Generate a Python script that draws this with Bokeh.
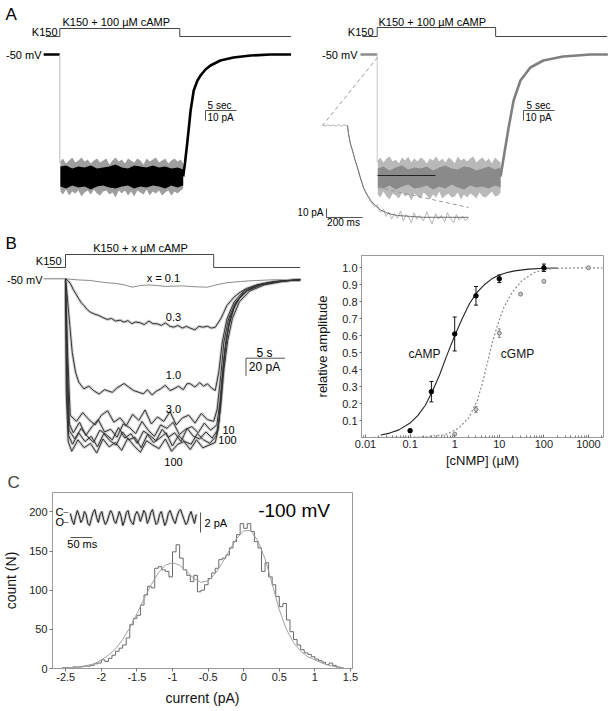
import numpy as np
from bokeh.plotting import figure
from bokeh.models import (Label, Range1d, FixedTicker, Whisker, TeeHead,
                          ColumnDataSource, CustomJSTickFormatter)
from bokeh.layouts import row, column
from bokeh.embed import file_html
from bokeh.resources import INLINE

FONT = "Liberation Sans"

# ======================= DATA =======================
# ---- Panel A : time (s), current (pA) ----
AL_sol_t = [-2.3, 0.0, 19.35, 37.3]      # start, cAMP on, cAMP off, end
AR_sol_t = [-2.4, 0.0, 19.1, 37.1]
AL_hold_t = [-2.6, 0.0]
AR_hold_t = [-2.7, 0.0]
A_env_t = [0.1, 1, 2, 3, 4, 5, 6, 7, 8, 9, 10, 11, 12, 13, 14, 15, 16, 17, 18, 19, 19.9]
A_out_t = [0.1, 0.5, 1.0, 1.5, 2.0, 2.5, 3.0, 3.5, 4.0, 4.5, 5.0, 5.5, 6.0, 6.5, 7.0, 7.5, 8.0, 8.5, 9.0, 9.5,
           10.0, 10.5, 11.0, 11.5, 12.0, 12.5, 13.0, 13.5, 14.0, 14.5, 15.0, 15.5, 16.0, 16.5, 17.0, 17.5,
           18.0, 18.5, 19.0, 19.5, 19.9]
AL_core_hi = [-112, -111, -114, -112, -113, -111, -114, -113, -112, -110, -113, -114, -111, -112, -113, -111, -113, -112, -114, -113, -115]
AL_core_lo = [-132, -134, -131, -133, -132, -135, -132, -131, -133, -134, -132, -131, -134, -132, -133, -131, -132, -134, -131, -133, -131]
AL_out_hi = [-107, -104, -109, -106, -103, -108, -106, -103, -107, -105, -109, -106, -104, -108, -106, -104, -110, -106, -103, -107,
             -105, -109, -104, -106, -108, -104, -106, -110, -104, -107, -105, -103, -108, -106, -104, -109, -106, -104, -107, -105, -109]
AL_out_lo = [-137, -140, -135, -141, -137, -139, -136, -142, -138, -136, -140, -135, -139, -141, -137, -136, -140, -138, -143, -136,
             -139, -136, -141, -137, -142, -136, -138, -140, -135, -141, -137, -139, -136, -141, -138, -136, -141, -137, -139, -136, -134]
AL_rise_t = [19.9, 20.2, 20.6, 21.1, 21.6, 22.2, 22.7, 23.5, 24.3, 25.9, 28.0, 30.8, 34.0, 37.3]
AL_rise_I = [-122, -108, -86, -56, -36, -26, -21, -15, -11, -6, -3, -1, 0, 0]

AR_core_hi = [-114, -112, -116, -113, -111, -115, -113, -114, -112, -116, -113, -111, -114, -115, -112, -113, -116, -114, -112, -115, -113]
AR_core_lo = [-132, -134, -131, -135, -132, -130, -134, -133, -131, -135, -132, -134, -130, -133, -135, -131, -133, -132, -134, -131, -133]
AR_out_hi = [-106, -103, -108, -104, -102, -107, -105, -109, -103, -106, -102, -108, -104, -107, -103, -105, -109, -104, -106, -102,
             -107, -104, -108, -103, -105, -109, -102, -106, -104, -107, -104, -102, -108, -105, -103, -107, -104, -109, -103, -106, -108]
AR_out_lo = [-140, -143, -137, -142, -145, -139, -141, -144, -138, -142, -140, -146, -139, -142, -144, -138, -141, -145, -140, -143,
             -137, -144, -141, -139, -143, -142, -138, -145, -140, -143, -139, -141, -144, -138, -142, -143, -140, -137, -142, -141, -138]
AR_rise_t = [19.9, 20.4, 21.2, 22.0, 23.1, 24.7, 26.8, 30.0, 34.4, 37.2]
AR_rise_I = [-122, -103, -73, -46, -26, -13, -6, -2, 0, 0]
AR_fit_t = [0.05, 9.4]
AR_fit_I = [-121, -121]

# inset of A (ms, pA)
AI_t = [-139, -125, -110, -95, -80, -65, -50, -35, -20, -8, 0, 5.6, 15, 27.8, 40, 55.6, 70, 88.9, 105, 127.8,
        150, 165, 183, 200, 215, 230, 245, 260, 278, 295, 310, 325, 340, 355, 370, 385, 400, 422, 440, 455,
        470, 490, 505, 520, 540, 555, 570, 590, 605, 620, 640, 655, 672]
AI_I = [0.3, -0.6, 0.8, -0.3, 0.5, -0.7, 1.0, -0.9, 0.6, 0.2, 0, -9, -20, -28, -37, -47, -57, -69, -75, -84,
        -90, -88, -96, -93, -101, -96, -104, -98, -103, -95, -106, -99, -102, -108, -97, -104, -100, -106, -96, -103,
        -109, -98, -104, -100, -107, -97, -103, -108, -99, -105, -101, -106, -102]
AI_fit_t = [0, 5.6, 15, 28, 40, 56, 70, 89, 105, 128, 155, 183, 230, 278, 350, 422, 672]
AI_fit_I = [0, -9, -19, -28, -37, -47, -57, -69, -76, -83, -89, -94, -98, -100, -101, -102, -102]

# ---- Panel B traces : time (s), current (pA) ----
B_sol_t = [-2.3, 0.0, 19.0, 30.1]
B_hold_t = [-2.8, 0.0]
B01_t = [0, 1.5, 3.2, 4.3, 5.35, 6.4, 7.5, 8.55, 9.6, 10.7, 11.75, 12.8, 13.9, 15.0, 16.0, 17.1, 18.2, 19.0,
         19.8, 20.7, 21.5, 22.4, 23.5, 24.6, 25.6, 26.7, 28.4, 30.1]
B01_I = [0, -1.2, -1.9, -3.4, -4.5, -5.2, -6.8, -9.5, -7.6, -7.0, -7.6, -8.6, -8.4, -8.0, -8.8, -9.2, -9.5, -7.6,
         -6.0, -4.5, -3.8, -3.1, -2.4, -1.9, -1.5, -1.1, -0.9, -0.8]
B03_t = [0, 0.3, 0.64, 1.06, 1.4, 1.7, 2.0, 2.35, 2.8, 3.2, 3.7, 4.27, 4.8, 5.35, 5.9, 6.4, 7.0, 7.5, 8.0, 8.5,
         9.0, 9.6, 10.1, 10.7, 11.2, 11.75, 12.3, 12.8, 13.4, 13.9, 14.4, 15.0, 15.5, 16.0, 16.6, 17.1, 17.6, 18.2,
         18.7, 19.2, 19.9, 20.3, 20.7, 21.2, 21.6, 22.4, 23.2, 24.1, 25.3, 26.7, 28.4, 30.1]
B03_I = [0, -2, -5.7, -13.3, -18, -22.7, -27, -30.3, -35, -38, -40, -41.7, -44, -46.2, -45, -48, -47, -49.3, -47.5, -51,
         -49, -50, -52, -48, -51, -51.1, -53, -50, -54, -55, -53, -56, -54, -56.1, -58, -54, -55, -53.9,
         -56, -55, -45.5, -38, -30.3, -25, -20.9, -15.2, -11, -8.4, -5.5, -3.9, -2, -1.1]
B1_t = [0, 0.22, 0.55, 0.86, 1.28, 1.7, 2.35, 3.0, 3.6, 4.3, 5.0, 5.35, 6.0, 6.6, 7.5, 8.1, 8.75, 9.4, 10.0, 10.5,
        11.1, 11.6, 12.2, 12.8, 13.4, 13.9, 14.5, 15.1, 15.6, 16.0, 16.6, 17.2, 17.7, 18.2, 18.7, 19.2, 19.65, 20.1,
        20.7, 21.6, 22.9, 24.6, 26.7, 28.4, 30.1]
B1_I = [0, -19, -53, -83.4, -106, -117.5, -125, -122, -127, -131, -126, -127, -129, -124, -119, -123, -127, -129, -130.7, -126,
        -132, -128, -125, -121, -127, -125, -122, -126, -119, -119.3, -123, -118, -122, -119.3, -124, -127, -106, -72,
        -45.5, -26.6, -13.3, -6.8, -3.1, -1.8, -1.1]
B3_t = [0, 0.3, 0.6, 1.4, 2.2, 3.0, 3.8, 4.6, 5.4, 6.2, 7.0, 7.8, 8.6, 9.4, 10.2, 11.0, 11.8, 12.6, 13.4, 14.2,
        15.0, 15.8, 16.6, 17.4, 18.2, 19.0, 19.45, 19.9, 20.3, 20.9, 21.8, 23.1, 25.0, 27.6, 30.1]
B3_I = [0, -90, -155, -162, -152, -160, -166, -155, -150, -163, -158, -167, -154, -161, -149, -165, -157, -162, -151, -166,
        -158, -155, -164, -153, -160, -162, -148, -110, -72, -45.5, -26.6, -14.4, -6.8, -2.7, -1.1]
B10_t = [0, 0.25, 0.5, 1.0, 1.8, 2.6, 3.4, 4.2, 5.0, 5.8, 6.6, 7.4, 8.2, 9.0, 9.8, 10.6, 11.4, 12.2, 13.0, 13.8,
         14.6, 15.4, 16.2, 17.0, 17.8, 18.6, 19.4, 19.8, 20.2, 20.6, 21.1, 22.0, 23.3, 25.2, 27.8, 30.1]
B10_I = [0, -100, -165, -175, -163, -178, -168, -160, -174, -171, -180, -165, -169, -176, -162, -172, -179, -166, -170, -163,
         -177, -171, -168, -175, -164, -172, -166, -140, -100, -68, -44, -25, -13.5, -6.5, -2.6, -1.1]
B30_t = [0, 0.2, 0.45, 1.2, 2.0, 2.8, 3.6, 4.4, 5.2, 6.0, 6.8, 7.6, 8.4, 9.2, 10.0, 10.8, 11.6, 12.4, 13.2, 14.0,
         14.8, 15.6, 16.4, 17.2, 18.0, 18.8, 19.5, 19.9, 20.3, 20.8, 21.4, 22.3, 23.6, 25.5, 28.0, 30.1]
B30_I = [0, -110, -172, -182, -170, -179, -186, -172, -177, -183, -169, -181, -176, -187, -173, -178, -184, -171, -180, -175,
         -185, -170, -179, -182, -174, -181, -172, -145, -104, -70, -45, -26, -14, -6.8, -2.7, -1.1]
B100a_t = [0, 0.15, 0.4, 0.9, 1.7, 2.5, 3.3, 4.1, 4.9, 5.7, 6.5, 7.3, 8.1, 8.9, 9.7, 10.5, 11.3, 12.1, 12.9, 13.7,
           14.5, 15.3, 16.1, 16.9, 17.7, 18.5, 19.3, 19.7, 20.1, 20.5, 21.0, 21.7, 22.8, 24.5, 27.0, 30.1]
B100a_I = [0, -120, -178, -188, -175, -185, -179, -191, -176, -184, -189, -174, -183, -180, -192, -177, -186, -181, -175, -190,
           -178, -185, -188, -176, -183, -187, -179, -160, -115, -78, -50, -30, -16, -7.5, -3, -1.1]
B100b_t = [0, 0.1, 0.35, 0.8, 1.6, 2.4, 3.2, 4.0, 4.8, 5.6, 6.4, 7.2, 8.0, 8.8, 9.6, 10.4, 11.2, 12.0, 12.8, 13.6,
           14.4, 15.2, 16.0, 16.8, 17.6, 18.4, 19.2, 19.6, 20.0, 20.4, 20.9, 21.6, 22.6, 24.2, 26.8, 30.1]
B100b_I = [0, -130, -185, -196, -183, -192, -187, -198, -182, -191, -186, -195, -181, -190, -197, -184, -189, -193, -182, -196,
           -188, -185, -194, -183, -192, -189, -186, -170, -125, -84, -55, -33, -18, -8, -3.2, -1.1]

# ---- Panel B dose-response ----
camp_x = [0.1, 0.3, 1, 3, 10, 100]
camp_y = [0.04, 0.27, 0.61, 0.835, 0.935, 1.0]
camp_err = [0.008, 0.06, 0.10, 0.055, 0.022, 0.022]
cgmp_x = [1, 3, 10, 30, 100, 1000]
cgmp_y = [0.02, 0.165, 0.615, 0.845, 0.92, 1.0]
cgmp_err = [0.004, 0.018, 0.025, 0.008, 0.006, 0.004]
camp_fit_x = [0.022, 0.035, 0.056, 0.1, 0.15, 0.22, 0.32, 0.46, 0.68, 1.0, 1.47, 2.15, 3.16, 4.6, 6.8, 10, 15, 22, 46, 100, 200]
camp_fit_y = [0.015, 0.026, 0.045, 0.085, 0.13, 0.19, 0.275, 0.37, 0.49, 0.60, 0.70, 0.79, 0.855, 0.9, 0.935, 0.958, 0.972, 0.982, 0.992, 0.997, 0.999]
cgmp_fit_x = [0.01, 0.1, 0.22, 0.62, 1.24, 2.07, 3.19, 4.13, 5.37, 6.9, 8.97, 12.6, 19.4, 32.6, 65, 153, 600, 2050]
cgmp_fit_y = [0.0, 0.001, 0.004, 0.016, 0.056, 0.116, 0.216, 0.316, 0.436, 0.556, 0.656, 0.766, 0.856, 0.926, 0.976, 0.996, 1.0, 1.0]
dr_xticks = [0.01, 0.1, 1, 10, 100, 1000]
dr_yticks = [0.1, 0.2, 0.3, 0.4, 0.5, 0.6, 0.7, 0.8, 0.9, 1.0]

# ---- Panel C histogram : current (pA), count ----
hist_first_edge = -2.55
hist_bin = 0.05
hist_counts = [1, 1, 1, 2, 2, 2, 3, 3, 4, 6,
               7, 11, 9, 13, 17, 22, 26, 30, 39, 56,
               64, 68, 81, 94, 105, 103, 128, 130, 126, 124,
               117, 149, 158, 141, 126, 119, 111, 119, 98, 100,
               107, 115, 122, 128, 139, 141, 145, 154, 162, 171,
               185, 179, 185, 175, 162, 154, 124, 135, 117, 107,
               92, 79, 83, 62, 47, 37, 30, 24, 20, 18,
               15, 12, 10, 8, 5, 7, 4, 2, 1]
gfit_x = [-2.55, -2.3, -2.1, -2.0, -1.9, -1.8, -1.7, -1.6, -1.5, -1.4, -1.3, -1.2, -1.1, -1.0, -0.9, -0.8, -0.7,
          -0.6, -0.5, -0.4, -0.3, -0.2, -0.1, 0.0, 0.1, 0.2, 0.3, 0.4, 0.5, 0.6, 0.7, 0.8, 0.9, 1.0, 1.1, 1.2, 1.3, 1.4]
gfit_y = [0.5, 2, 6, 11, 17, 25, 37, 52, 70, 89, 107, 122, 132, 135, 132, 124, 115,
          110, 112, 121, 135, 151, 166, 176, 176, 163, 140, 108, 75, 50, 33, 22, 15, 11, 7, 4, 2, 1]
hist_xticks = [-2.5, -2, -1.5, -1, -0.5, 0, 0.5, 1, 1.5]
hist_yticks = [0, 50, 100, 150, 200]
# single-channel inset (ms, pA); C = 0, O = -1
CI_I = [-0.1, -0.8, -1.2, -0.4, 0.2, -0.3, -1.0, -0.7, 0.1, -0.2,
        -1.1, -1.3, -0.6, 0.0, 0.3, -0.5, -1.0, -0.2, 0.1, -0.7,
        -1.2, -0.9, -0.3, 0.2, -0.1, -0.8, -1.1, -0.5, 0.1, -0.4,
        -1.3, -0.8, 0.0, 0.2, -0.6, -1.0, -1.2, -0.3, 0.1, -0.2,
        -0.9, -0.4, 0.2, -0.1, -1.1, -0.7, 0.0, 0.3, -0.5, -1.2,
        -1.0, -0.2, 0.1, -0.6, -1.3, -0.9, -0.1, 0.2, -0.3, -0.8,
        -1.1, -0.4, 0.1, 0.3, -0.2, -0.7, -1.2, -1.0, -0.3, 0.1,
        -0.5, -1.1, -0.2]
CI_t = np.linspace(0, 288, len(CI_I))


# ======================= HELPERS =======================
class Map:
    """page pixel <-> data mapping for a figure frame"""
    def __init__(s, L, T, R, B, axp, axv, xppu, ayp, ayv, yppu, logx=False):
        s.L, s.T, s.R, s.B = L, T, R, B
        s.axp, s.axv, s.xppu = axp, axv, xppu
        s.ayp, s.ayv, s.yppu = ayp, ayv, yppu
        s.logx = logx

    def x(s, px):
        v = s.axv + (px - s.axp) / s.xppu
        return 10 ** v if s.logx else v

    def y(s, py):
        return s.ayv - (py - s.ayp) / s.yppu

    def xr(s):
        return Range1d(s.x(s.L), s.x(s.R))

    def yr(s):
        return Range1d(s.y(s.B), s.y(s.T))


def lab(p, m, px, py, text, size=11, align="left", color="black", baseline="middle"):
    p.add_layout(Label(x=m.x(px), y=m.y(py), text=text, text_font=FONT,
                       text_font_size=f"{size}px", text_align=align,
                       text_baseline=baseline, text_color=color))


def trace_fig(w, h, m):
    p = figure(width=w, height=h, x_range=m.xr(), y_range=m.yr(),
               output_backend="svg", toolbar_location=None,
               x_axis_location=None, y_axis_location=None,
               min_border_left=0, min_border_right=0, min_border_top=0, min_border_bottom=0)
    p.xgrid.visible = False
    p.ygrid.visible = False
    p.outline_line_color = None
    return p


def sol_bar(p, m, ts, py_lo, py_hi, color="#444"):
    lo, hi = m.y(py_lo), m.y(py_hi)
    p.line([ts[0], ts[1], ts[1], ts[2], ts[2], ts[3]], [lo, lo, hi, hi, lo, lo],
           line_color=color, line_width=1)


def scalebar(p, x0, y0, dx, dy, color="#444", **kw):
    p.line([x0 + dx, x0, x0], [y0, y0, y0 + dy], line_color=color, line_width=1, **kw)


# ======================= PANEL A =======================
mAL = Map(0, 0, 298, 232, 59.3, 0.0, 6.2, 54, 0.0, 1.0)
aL = trace_fig(298, 232, mAL)
sol_bar(aL, mAL, AL_sol_t, 36, 28)
aL.line(AL_hold_t, [0, 0], line_color="black", line_width=2.5)
aL.line([0, 0], [0, -108], line_color="#bbbbbb", line_width=1)
aL.varea(x=A_out_t, y1=AL_out_lo, y2=AL_out_hi, fill_color="black", fill_alpha=0.38)
aL.varea(x=A_env_t, y1=AL_core_lo, y2=AL_core_hi, fill_color="black")
aL.line(AL_rise_t, AL_rise_I, line_color="black", line_width=2.6)
scalebar(aL, mAL.x(205), mAL.y(110), 5, -10, color="#555")
lab(aL, mAL, 5, 14, "A", 17)
lab(aL, mAL, 57, 31.5, "K150", 11, "right")
lab(aL, mAL, 62, 21.5, "K150 + 100 µM cAMP", 11)
lab(aL, mAL, 41, 54, "-50 mV", 11, "right")
lab(aL, mAL, 219, 104.5, "5 sec", 10, "center")
lab(aL, mAL, 207, 116.5, "10 pA", 10)

mAR = Map(298, 0, 611, 232, 376.7, 0.0, 6.2, 54, 0.0, 1.0)
mAI = Map(298, 0, 611, 232, 347, 0.0, 0.18, 125, 0.0, 0.9)
aR = trace_fig(313, 232, mAR)
aR.extra_x_ranges = {"ins": mAI.xr()}
aR.extra_y_ranges = {"ins": mAI.yr()}
sol_bar(aR, mAR, AR_sol_t, 36, 27)
aR.line(AR_hold_t, [0, 0], line_color="#8c8c8c", line_width=2.5)
aR.line([0, 0], [0, -108], line_color="#c8c8c8", line_width=1)
aR.varea(x=A_out_t, y1=AR_out_lo, y2=AR_out_hi, fill_color="#b9b9b9")
aR.varea(x=A_env_t, y1=AR_core_lo, y2=AR_core_hi, fill_color="#8a8a8a")
aR.line(AR_rise_t, AR_rise_I, line_color="#808080", line_width=2.6)
aR.line(AR_fit_t, AR_fit_I, line_color="#222222", line_width=1.2)
# dashed connectors to the inset
aR.line([mAR.x(377), mAR.x(322)], [mAR.y(57), mAR.y(125)], line_color="#9a9a9a", line_dash="4 3", line_width=1)
aR.line([mAR.x(377), mAR.x(468)], [mAR.y(187), mAR.y(207)], line_color="#9a9a9a", line_dash="4 3", line_width=1)
aR.line(AI_t, AI_I, line_color="#b5b5b5", line_width=1, x_range_name="ins", y_range_name="ins")
aR.line(AI_fit_t, AI_fit_I, line_color="#707070", line_width=1, x_range_name="ins", y_range_name="ins")
scalebar(aR, mAI.x(326), mAI.y(217), 200, 10, color="#555", x_range_name="ins", y_range_name="ins")
scalebar(aR, mAR.x(523), mAR.y(110), 5, -10, color="#555")
lab(aR, mAR, 373, 31.5, "K150", 11, "right")
lab(aR, mAR, 378, 21, "K150 + 100 µM cAMP", 11)
lab(aR, mAR, 357, 54, "-50 mV", 11, "right")
lab(aR, mAR, 538, 104.5, "5 sec", 10, "center")
lab(aR, mAR, 525, 117, "10 pA", 10)
lab(aR, mAR, 323, 212, "10 pA", 10, "right")
lab(aR, mAR, 343, 222, "200 ms", 10, "center")

# ======================= PANEL B (traces) =======================
mBL = Map(0, 232, 306, 470, 65, 0.0, 7.8, 278.3, 0.0, 0.88)
bL = trace_fig(306, 238, mBL)
sol_bar(bL, mBL, B_sol_t, 267, 254)
bL.line(B_hold_t, [0, 0], line_color="#777777", line_width=1)
bL.line(B01_t, B01_I, line_color="#8a8a8a", line_width=1)
traces = [(B03_t, B03_I), (B1_t, B1_I), (B3_t, B3_I), (B10_t, B10_I),
          (B30_t, B30_I), (B100a_t, B100a_I), (B100b_t, B100b_I)]
for tt, ii in traces:
    bL.line(tt, ii, line_color="#b0b0b0", line_width=3, line_alpha=0.6)
for tt, ii in traces:
    bL.line(tt, ii, line_color="#333333", line_width=1)
scalebar(bL, mBL.x(245.5), mBL.y(357.7), 5, -20, color="#555")
lab(bL, mBL, 5, 233, "B", 17, baseline="top")
lab(bL, mBL, 61, 260, "K150", 11, "right")
lab(bL, mBL, 140, 247, "K150 + x µM cAMP", 11, "center")
lab(bL, mBL, 42, 279, "-50 mV", 11, "right")
lab(bL, mBL, 163, 277.5, "x = 0.1", 11, "center")
lab(bL, mBL, 173, 316, "0.3", 11, "center")
lab(bL, mBL, 173, 374.5, "1.0", 11, "center")
lab(bL, mBL, 173, 408, "3.0", 11, "center")
lab(bL, mBL, 228, 429.5, "10", 11, "center")
lab(bL, mBL, 227, 439.5, "100", 11, "center")
lab(bL, mBL, 173, 461.5, "100", 11, "center")
lab(bL, mBL, 264, 352, "5 s", 12, "center")
lab(bL, mBL, 264, 366, "20 pA", 12, "center")

# ======================= PANEL B (dose-response) =======================
mBR = Map(361, 255, 603, 437, 365, -2.0, 44.6, 437, 0.0, 169.7, logx=True)
bR = figure(width=305, height=238, x_axis_type="log", x_range=mBR.xr(), y_range=mBR.yr(),
            output_backend="svg", toolbar_location=None,
            min_border_left=55, min_border_right=8, min_border_top=23, min_border_bottom=33)
bR.xgrid.visible = False
bR.ygrid.visible = False
bR.outline_line_color = "#9a9a9a"
bR.line(camp_fit_x, camp_fit_y, line_color="#222222", line_width=1.1)
bR.line(cgmp_fit_x, cgmp_fit_y, line_color="#8a8a8a", line_width=1.2, line_dash="2 2")
src_c = ColumnDataSource(dict(x=camp_x, lo=[v - e for v, e in zip(camp_y, camp_err)],
                              hi=[v + e for v, e in zip(camp_y, camp_err)]))
src_g = ColumnDataSource(dict(x=cgmp_x, lo=[v - e for v, e in zip(cgmp_y, cgmp_err)],
                              hi=[v + e for v, e in zip(cgmp_y, cgmp_err)]))
bR.add_layout(Whisker(source=src_c, base="x", upper="hi", lower="lo", line_color="#111111",
                      upper_head=TeeHead(size=4, line_color="#111111"),
                      lower_head=TeeHead(size=4, line_color="#111111")))
bR.add_layout(Whisker(source=src_g, base="x", upper="hi", lower="lo", line_color="#888888",
                      upper_head=TeeHead(size=3, line_color="#888888"),
                      lower_head=TeeHead(size=3, line_color="#888888")))
bR.scatter(camp_x, camp_y, size=4.5, fill_color="black", line_color="black")
bR.scatter(cgmp_x, cgmp_y, size=4, fill_color="#c8c8c8", line_color="#808080")
minor = [m * 10.0 ** k for k in range(-3, 4) for m in range(2, 10)]
bR.xaxis.ticker = FixedTicker(ticks=dr_xticks, minor_ticks=minor)
bR.xaxis.formatter = CustomJSTickFormatter(code="return tick.toString();")
bR.yaxis.ticker = FixedTicker(ticks=dr_yticks)
bR.yaxis.formatter = CustomJSTickFormatter(code="return tick.toFixed(1);")
for ax in (bR.xaxis, bR.yaxis):
    ax.axis_line_color = "#9a9a9a"
    ax.major_tick_line_color = "#777777"
    ax.minor_tick_line_color = "#777777"
    ax.major_label_text_font = FONT
    ax.major_label_text_font_size = "11px"
    ax.major_label_text_color = "#222222"
    ax.axis_label_text_font = FONT
    ax.axis_label_text_font_size = "13px"
    ax.axis_label_text_font_style = "normal"
    ax.axis_label_text_color = "#111111"
bR.xaxis.major_tick_in = 3
bR.xaxis.major_tick_out = 0
bR.xaxis.minor_tick_in = 2
bR.xaxis.minor_tick_out = 0
bR.xaxis.major_label_standoff = 2
bR.xaxis.axis_label_standoff = 2
bR.xaxis.axis_label = "[cNMP] (µM)"
bR.yaxis.major_tick_in = 0
bR.yaxis.major_tick_out = 2
bR.yaxis.minor_tick_out = 0
bR.yaxis.minor_tick_in = 0
bR.yaxis.major_label_standoff = 2
bR.yaxis.axis_label_standoff = 9
bR.yaxis.axis_label = "relative amplitude"
lab(bR, mBR, 424, 353, "cAMP", 12, "center", "#111111")
lab(bR, mBR, 517, 353, "cGMP", 12, "center", "#111111")

# ======================= PANEL C =======================
mC = Map(50, 492, 352, 668, 63.3, -2.5, 71.67, 668, 0.0, 0.783)
mCI = Map(50, 492, 352, 668, 68, 0.0, 0.44, 512, 0.0, 10.0)
c = figure(width=611, height=240, x_range=mC.xr(), y_range=mC.yr(),
           output_backend="svg", toolbar_location=None, title="C",
           min_border_left=50, min_border_right=259, min_border_top=22, min_border_bottom=42)
c.title.align = "left"
c.title.offset = -45
c.title.standoff = 1
c.title.text_font = FONT
c.title.text_font_size = "17px"
c.title.text_font_style = "normal"
c.extra_x_ranges = {"ins": mCI.xr()}
c.extra_y_ranges = {"ins": mCI.yr()}
c.xgrid.visible = False
c.ygrid.visible = False
c.outline_line_color = "#9a9a9a"
edges = list(np.round(hist_first_edge + hist_bin * np.arange(len(hist_counts) + 1), 3))
c.step(edges, hist_counts + [hist_counts[-1]], mode="after", line_color="#6a6a6a", line_width=1)
c.line(gfit_x, gfit_y, line_color="#a0a0a0", line_width=1)
c.line(list(CI_t), CI_I, line_color="#b8b8b8", line_width=3, line_alpha=0.7, x_range_name="ins", y_range_name="ins")
c.line(list(CI_t), CI_I, line_color="#222222", line_width=1, x_range_name="ins", y_range_name="ins")
for lvl in (0, -1):
    c.line([mCI.x(61), mCI.x(66)], [lvl, lvl], line_color="#777777", line_width=1,
           x_range_name="ins", y_range_name="ins")
c.line([mCI.x(199), mCI.x(199)], [0, -2], line_color="#555555", line_width=1, x_range_name="ins", y_range_name="ins")
c.line([0, 50], [mCI.y(537), mCI.y(537)], line_color="#555555", line_width=1, x_range_name="ins", y_range_name="ins")
c.xaxis.ticker = FixedTicker(ticks=hist_xticks)
c.xaxis.formatter = CustomJSTickFormatter(code="return String(Math.round(tick*10)/10);")
c.yaxis.ticker = FixedTicker(ticks=hist_yticks)
c.yaxis.formatter = CustomJSTickFormatter(code="return tick.toFixed(0);")
for ax in (c.xaxis, c.yaxis):
    ax.axis_line_color = "#9a9a9a"
    ax.major_tick_line_color = "#777777"
    ax.major_tick_in = 0
    ax.major_tick_out = 3
    ax.minor_tick_in = 0
    ax.minor_tick_out = 0
    ax.major_label_text_font = FONT
    ax.major_label_text_font_size = "11px"
    ax.major_label_text_color = "#222222"
    ax.axis_label_text_font = FONT
    ax.axis_label_text_font_size = "14px"
    ax.axis_label_text_font_style = "normal"
    ax.axis_label_text_color = "#111111"
c.xaxis.major_label_standoff = 1
c.xaxis.axis_label_standoff = 6
c.yaxis.major_label_standoff = 2
c.yaxis.axis_label_standoff = 7
c.xaxis.axis_label = "current (pA)"
c.yaxis.axis_label = "count (N)"
lab(c, mC, 257, 510, "-100 mV", 19)
lab(c, mC, 53, 511.7, "C", 11)
lab(c, mC, 53, 521.7, "O", 11)
lab(c, mC, 203, 522.5, "2 pA", 11)
lab(c, mC, 80, 543, "50 ms", 11, "center")

# each B figure wrapped in its own column so that their frames are not aligned
layout = column(row(aL, aR), row(column(bL), column(bR)), c)
open("out.html", "w").write(file_html(layout, INLINE))
